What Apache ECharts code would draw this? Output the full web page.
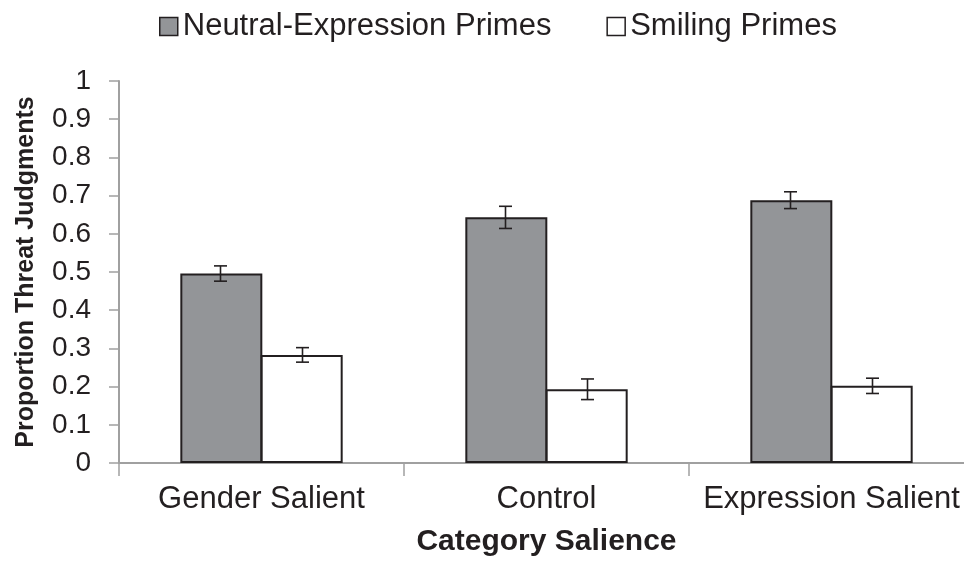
<!DOCTYPE html>
<html>
<head>
<meta charset="utf-8">
<script src="https://cdn.jsdelivr.net/npm/echarts@6/dist/echarts.min.js"></script>
<style>
  html, body { margin: 0; padding: 0; background: #ffffff; overflow: hidden; }
  /* the plot continues a little past the right edge of the window */
  #chart { width: 974px; height: 562px; }
</style>
</head>
<body>
<div id="chart"></div>
<script>
// Proportion of threat judgments by category-salience condition
const categories = ['Gender Salient', 'Control', 'Expression Salient'];
const seriesNames = ['Neutral-Expression Primes', 'Smiling Primes'];
const neutralValues = [0.496, 0.643, 0.688];
const neutralErrors = [0.020, 0.029, 0.022];
const smilingValues = [0.283, 0.193, 0.202];
const smilingErrors = [0.019, 0.027, 0.020];
const yTicks = [0, 0.1, 0.2, 0.3, 0.4, 0.5, 0.6, 0.7, 0.8, 0.9, 1];

const INK = '#231f20';
const AXIS = '#a0a0a0';
const FONT = '"Liberation Sans", Arial, sans-serif';
const BAR_W = 82;

// error-bar rows: [categoryIndex, mean, err, side(-1 left bar, +1 right bar)]
function errorRows(values, errors, side) {
  return values.map((v, i) => [i, v, errors[i], side]);
}

function renderError(params, api) {
  const idx = api.value(0);
  const mean = api.value(1);
  const err = api.value(2);
  const side = api.value(3);
  const center = api.coord([idx, mean]);
  const x = center[0] + side * BAR_W / 2;
  const yTop = api.coord([idx, mean + err])[1];
  const yBot = api.coord([idx, mean - err])[1];
  const cap = 6.5;
  const style = { stroke: INK, lineWidth: 1.6, fill: null };
  return {
    type: 'group',
    children: [
      { type: 'line', shape: { x1: x, y1: yTop, x2: x, y2: yBot }, style },
      { type: 'line', shape: { x1: x - cap, y1: yTop, x2: x + cap, y2: yTop }, style },
      { type: 'line', shape: { x1: x - cap, y1: yBot, x2: x + cap, y2: yBot }, style }
    ]
  };
}

const chart = echarts.init(document.getElementById('chart'), null, { renderer: 'canvas' });
chart.setOption({
  animation: false,
  backgroundColor: '#ffffff',
  textStyle: { fontFamily: FONT, color: INK },
  legend: {
    left: 154,
    top: 6,
    itemWidth: 18,
    itemHeight: 18,
    itemGap: 55,
    icon: 'rect',
    data: seriesNames,
    textStyle: { fontFamily: FONT, fontSize: 31, color: INK },
    itemStyle: { borderColor: INK, borderWidth: 1.5 }
  },
  grid: { left: 119, right: 0, top: 81, bottom: 97, containLabel: false },
  xAxis: {
    type: 'category',
    data: categories,
    name: 'Category Salience',
    nameLocation: 'middle',
    nameGap: 64,
    nameTextStyle: { fontFamily: FONT, fontSize: 30, fontWeight: 'bold', color: INK },
    axisLine: { lineStyle: { color: AXIS, width: 2 } },
    axisTick: { show: true, alignWithLabel: false, length: 13, lineStyle: { color: AXIS, width: 1.5 } },
    axisLabel: { fontFamily: FONT, fontSize: 31, color: INK, margin: 21, interval: 0 }
  },
  yAxis: {
    type: 'value',
    min: yTicks[0],
    max: yTicks[yTicks.length - 1],
    interval: 0.1,
    name: 'Proportion Threat Judgments',
    nameLocation: 'middle',
    nameRotate: 90,
    nameGap: 80,
    nameTextStyle: { fontFamily: FONT, fontSize: 25, fontWeight: 'bold', color: INK },
    splitLine: { show: false },
    axisLine: { show: true, lineStyle: { color: AXIS, width: 2 } },
    axisTick: { show: true, length: 10, lineStyle: { color: AXIS, width: 1.5 } },
    axisLabel: {
      fontFamily: FONT, fontSize: 28, color: INK, margin: 28,
      formatter: v => String(Math.round(v * 10) / 10)
    }
  },
  series: [
    {
      name: seriesNames[0],
      type: 'bar',
      data: neutralValues,
      barWidth: BAR_W,
      barGap: '-2%',
      itemStyle: { color: '#939598', borderColor: INK, borderWidth: 2 },
      z: 2
    },
    {
      name: seriesNames[1],
      type: 'bar',
      data: smilingValues,
      barWidth: BAR_W,
      barGap: '-2%',
      itemStyle: { color: '#ffffff', borderColor: INK, borderWidth: 2 },
      z: 2
    },
    {
      type: 'custom',
      renderItem: renderError,
      data: errorRows(neutralValues, neutralErrors, -1),
      encode: { x: 0, y: 1 },
      z: 5,
      silent: true
    },
    {
      type: 'custom',
      renderItem: renderError,
      data: errorRows(smilingValues, smilingErrors, 1),
      encode: { x: 0, y: 1 },
      z: 5,
      silent: true
    }
  ]
});
</script>
</body>
</html>
